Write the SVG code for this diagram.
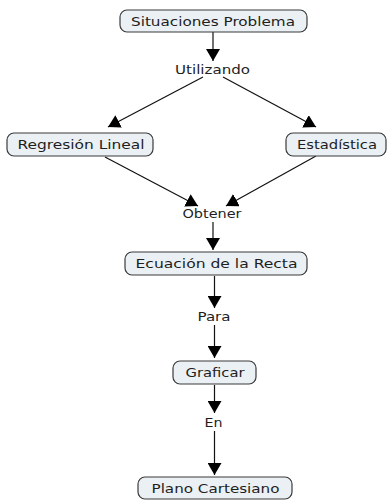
<svg xmlns="http://www.w3.org/2000/svg" width="388" height="500" viewBox="0 0 388 500">
<style>
.box{fill:#eaf0f4;stroke:#3a3a3a;stroke-width:1.2}
.t{font-family:"DejaVu Sans",Verdana,sans-serif;font-size:13px;fill:#1e1e1e;text-anchor:middle}
.c{stroke:#111;stroke-width:1.2;fill:none;marker-end:url(#ah)}
</style>
<defs>
<marker id="ah" markerUnits="userSpaceOnUse" markerWidth="14" markerHeight="14" refX="12" refY="7" orient="auto" viewBox="0 0 14 14">
<path d="M0,0 L12,7 L0,14 Z" fill="#000"/>
</marker>
</defs>
<rect width="388" height="500" fill="#fff"/>
<g id="connectors">
<line class="c" x1="213" y1="32" x2="213" y2="61"/>
<line class="c" x1="203" y1="77" x2="108" y2="127"/>
<line class="c" x1="223" y1="77" x2="316" y2="127"/>
<line class="c" x1="105" y1="157" x2="198" y2="206"/>
<line class="c" x1="316" y1="156" x2="226" y2="206"/>
<line class="c" x1="213" y1="222" x2="213" y2="250"/>
<line class="c" x1="214.5" y1="276" x2="214.5" y2="308"/>
<line class="c" x1="214.5" y1="325" x2="214.5" y2="358"/>
<line class="c" x1="214.5" y1="385" x2="214.5" y2="413"/>
<line class="c" x1="214.5" y1="431" x2="214.5" y2="475"/>
</g>
<g id="n-situaciones">
<rect class="box" x="120" y="10" width="187" height="22" rx="7"/>
<text class="t" x="213" y="25.5" textLength="164" lengthAdjust="spacingAndGlyphs">Situaciones Problema</text>
</g>
<g id="l-utilizando">
<text class="t" x="212.5" y="73.5" textLength="75" lengthAdjust="spacingAndGlyphs">Utilizando</text>
</g>
<g id="n-regresion">
<rect class="box" x="7" y="133" width="146" height="23" rx="7"/>
<text class="t" x="81" y="149" textLength="127" lengthAdjust="spacingAndGlyphs">Regresión Lineal</text>
</g>
<g id="n-estadistica">
<rect class="box" x="286" y="133" width="100" height="23" rx="7"/>
<text class="t" x="337" y="149" textLength="80" lengthAdjust="spacingAndGlyphs">Estadística</text>
</g>
<g id="l-obtener">
<text class="t" x="212" y="218" textLength="59" lengthAdjust="spacingAndGlyphs">Obtener</text>
</g>
<g id="n-ecuacion">
<rect class="box" x="125" y="252" width="182" height="23" rx="7"/>
<text class="t" x="216.5" y="268" textLength="162" lengthAdjust="spacingAndGlyphs">Ecuación de la Recta</text>
</g>
<g id="l-para">
<text class="t" x="214" y="321" textLength="33" lengthAdjust="spacingAndGlyphs">Para</text>
</g>
<g id="n-graficar">
<rect class="box" x="173" y="361" width="83" height="23" rx="7"/>
<text class="t" x="215" y="377" textLength="59" lengthAdjust="spacingAndGlyphs">Graficar</text>
</g>
<g id="l-en">
<text class="t" x="213.5" y="427" textLength="18" lengthAdjust="spacingAndGlyphs">En</text>
</g>
<g id="n-plano">
<rect class="box" x="138" y="477" width="154" height="22" rx="7"/>
<text class="t" x="215.5" y="492.5" textLength="128" lengthAdjust="spacingAndGlyphs">Plano Cartesiano</text>
</g>
</svg>
